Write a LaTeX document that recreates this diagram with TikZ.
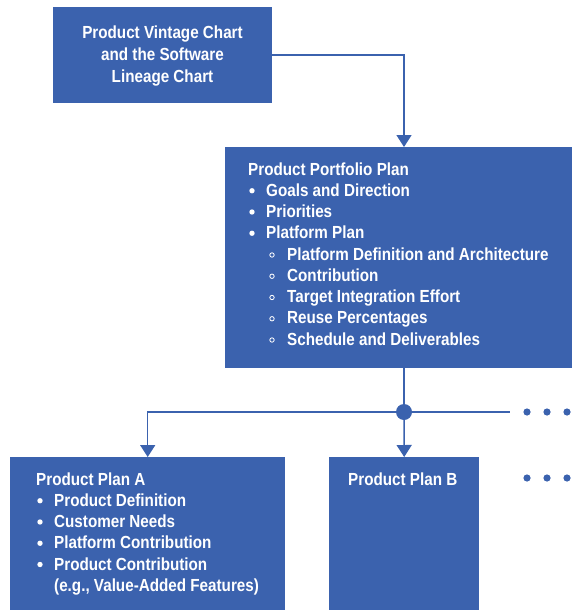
\documentclass[tikz,border=0pt]{standalone}
\usepackage{fontspec}
\setmainfont[FakeStretch=0.87]{Liberation Sans}
\usetikzlibrary{arrows.meta}
\definecolor{planblue}{HTML}{3B62AE}

\begin{document}
\begin{tikzpicture}[x=1pt,y=-1pt,
  box/.style={fill=planblue, draw=none, inner sep=0pt, anchor=north west},
  txt/.style={text=white, font=\bfseries\fontsize{17.5}{21}\selectfont, inner sep=0pt, anchor=base west},
  ctxt/.style={txt, anchor=base},
  link/.style={draw=planblue, line width=1.5pt},
  tip/.style={-{Triangle[width=15pt,length=12pt]}},
  dot/.style={fill=planblue},
]
\useasboundingbox (0,0) rectangle (572,610);

% boxes
\node[box, minimum width=219pt, minimum height=96pt] (vintage) at (53,7) {};
\node[box, minimum width=347pt, minimum height=221pt] (portfolio) at (225,147) {};
\node[box, minimum width=275pt, minimum height=153pt] (planA) at (10,457) {};
\node[box, minimum width=150pt, minimum height=153pt] (planB) at (329,457) {};

% connectors
\coordinate (hub) at (404,412);
\coordinate (more) at (510,412);
\draw[link,tip] (vintage.east) -| (hub |- portfolio.north);
\draw[link] (hub |- portfolio.south) -- (hub);
\draw[link,tip] (hub) -- (planB.north);
\draw[link,tip] (hub) -| (planA.north);
\draw[link] (hub) -- (more);
\fill[dot] (hub) circle (8pt);
\foreach \x in {527,547,567} {
  \fill[dot] (\x,412) circle (3.6pt);
  \fill[dot] (\x,478) circle (3.6pt);
}

% top box text
\node[ctxt] (v1) at (162.5,39) {Product Vintage Chart};
\node[ctxt] (v2) at (162.5,60.5) {and the Software};
\node[ctxt] (v3) at (162.5,82) {Lineage Chart};

% portfolio plan text
\node[txt] (p0) at (248,175) {Product Portfolio Plan};
\foreach \t [count=\i] in {Goals and Direction, Priorities, Platform Plan} {
  \pgfmathsetmacro{\yy}{175+21.25*\i}
  \fill[white] (252,\yy-5.5) circle (2.7pt);
  \node[txt] (pb\i) at (266,\yy) {\t};
}
\foreach \t [count=\i] in {Platform Definition and Architecture, Contribution,
    Target Integration Effort, Reuse Percentages, Schedule and Deliverables} {
  \pgfmathsetmacro{\yy}{175+21.25*(\i+3)}
  \draw[white, line width=0.8pt] (272,\yy-5) circle (2.2pt);
  \node[txt] (ps\i) at (287,\yy) {\t};
}

% product plan A text
\node[txt] (a0) at (36,485) {Product Plan A};
\foreach \t [count=\i] in {Product Definition, Customer Needs,
    Platform Contribution, Product Contribution} {
  \pgfmathsetmacro{\yy}{485+21.25*\i}
  \fill[white] (40,\yy-5.5) circle (2.7pt);
  \node[txt] (ab\i) at (54,\yy) {\t};
}
\node[txt] (a5) at (54,591.25) {(e.g., Value-Added Features)};

% product plan B text
\node[txt] (b0) at (348,485) {Product Plan B};
\end{tikzpicture}
\end{document}
